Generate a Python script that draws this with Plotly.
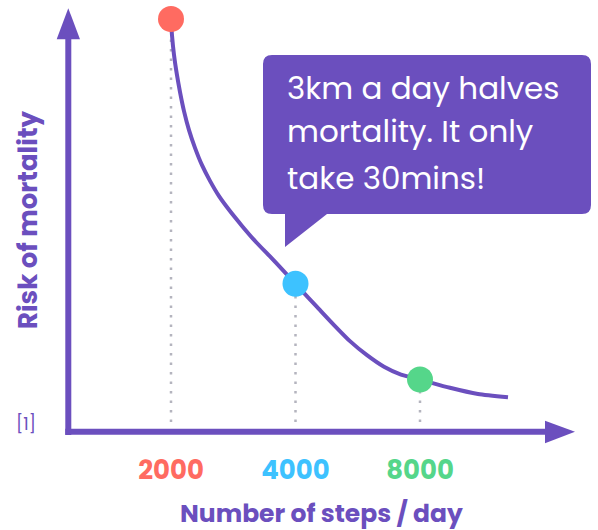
import plotly.graph_objects as go

# ---------------- data ----------------
steps = [2000, 4000, 8000]
step_labels = ["2000", "4000", "8000"]
risk = [1.0, 0.359, 0.127]
point_colors = ["#FF6B61", "#3DC2FF", "#55D68A"]

curve_steps = [2000, 2011, 2034, 2068, 2103, 2150, 2211, 2286, 2377, 2485,
               2613, 2762, 2970, 3210, 3470, 3752, 4100, 4508, 4957, 5417,
               5955, 6547, 7197, 8000, 9452, 11048, 13057]
curve_risk = [1.000, 0.961, 0.913, 0.864, 0.823, 0.777, 0.731, 0.688, 0.646, 0.608,
              0.571, 0.538, 0.499, 0.460, 0.425, 0.389, 0.347, 0.303, 0.259, 0.220,
              0.186, 0.158, 0.139, 0.127, 0.107, 0.092, 0.084]

x_title = "Number of steps / day"
y_title = "Risk of mortality"
note = "[1]"
bubble_lines = ["3km a day halves", "mortality. It only", "take 30mins!"]

# ---------------- style ----------------
PURPLE = "#6B4FBE"
GRAY = "#B4B4BE"
FONT = "Poppins, 'Open Sans', sans-serif"
W, H = 598, 530
ML, MR, MT, MB = 68, 23, 8, 98
PW, PH = W - ML - MR, H - MT - MB
X_RANGE = [3.0520, 4.27785]
Y_RANGE = [0, 1.02663]


def fx(px):
    return (px - ML) / PW


def fy(py):
    return (MT + PH - py) / PH


fig = go.Figure()

# dotted guide lines
y_base = Y_RANGE[0] + (Y_RANGE[1] - Y_RANGE[0]) * 10 / PH
for s, r in zip(steps, risk):
    fig.add_trace(go.Scatter(
        x=[s, s], y=[y_base, r], mode="lines",
        line=dict(color=GRAY, width=2.5, dash="2.5px,7px"),
        hoverinfo="skip", showlegend=False))

# curve
fig.add_trace(go.Scatter(
    x=curve_steps, y=curve_risk, mode="lines",
    line=dict(color=PURPLE, width=4, shape="spline", smoothing=0.6),
    hoverinfo="skip", showlegend=False, cliponaxis=False))

# points
fig.add_trace(go.Scatter(
    x=steps, y=risk, mode="markers", cliponaxis=False,
    marker=dict(size=26, color=point_colors, line=dict(width=0)),
    showlegend=False))

ticktext = [f"<span style='color:{c}'>{t}</span>" for t, c in zip(step_labels, point_colors)]

fig.update_xaxes(type="log", range=X_RANGE, tickvals=steps, ticktext=ticktext,
                 showgrid=False, zeroline=False, showline=False,
                 ticks="outside", ticklen=15, tickcolor="rgba(0,0,0,0)",
                 tickfont=dict(family=FONT, size=26, weight=700))
fig.update_yaxes(range=Y_RANGE, showgrid=False, zeroline=False, showline=False,
                 showticklabels=False)

shapes = []
# y axis
shapes.append(dict(type="line", xref="paper", yref="paper",
                   x0=fx(68.3), x1=fx(68.3), y0=fy(435), y1=fy(38),
                   line=dict(color=PURPLE, width=6)))
shapes.append(dict(type="path", xref="paper", yref="paper",
                   path=f"M{fx(56.7)},{fy(39.3)} L{fx(80)},{fy(39.3)} L{fx(68.3)},{fy(8.3)} Z",
                   fillcolor=PURPLE, line=dict(width=0)))
# x axis
shapes.append(dict(type="line", xref="paper", yref="paper",
                   x0=fx(65.3), x1=fx(547), y0=fy(431.7), y1=fy(431.7),
                   line=dict(color=PURPLE, width=6)))
shapes.append(dict(type="path", xref="paper", yref="paper",
                   path=f"M{fx(545)},{fy(420.7)} L{fx(575)},{fy(431.7)} L{fx(545)},{fy(443.3)} Z",
                   fillcolor=PURPLE, line=dict(width=0)))
# speech bubble
L_, R_, T_, B_, rr = 263, 591, 55, 214, 9
pts = [
    ("M", (L_ + rr, T_)), ("L", (R_ - rr, T_)), ("Q", (R_, T_), (R_, T_ + rr)),
    ("L", (R_, B_ - rr)), ("Q", (R_, B_), (R_ - rr, B_)),
    ("L", (327, B_)), ("L", (285, 247)), ("L", (285, B_)),
    ("L", (L_ + rr, B_)), ("Q", (L_, B_), (L_, B_ - rr)),
    ("L", (L_, T_ + rr)), ("Q", (L_, T_), (L_ + rr, T_)),
]
path = ""
for item in pts:
    cmd = item[0]
    coords = " ".join(f"{fx(p[0]):.5f},{fy(p[1]):.5f}" for p in item[1:])
    path += f"{cmd}{coords} "
path += "Z"
shapes.append(dict(type="path", xref="paper", yref="paper", path=path,
                   fillcolor=PURPLE, line=dict(width=0), layer="above"))

annotations = []
for line, py in zip(bubble_lines, [88, 131, 178]):
    annotations.append(dict(text=line, xref="paper", yref="paper",
                            x=fx(285), y=fy(py), xanchor="left", yanchor="middle",
                            showarrow=False,
                            font=dict(family=FONT, size=31, color="white")))
annotations.append(dict(text=x_title, xref="paper", yref="paper",
                        x=fx(321.5), y=fy(513), xanchor="center", yanchor="middle",
                        showarrow=False,
                        font=dict(family=FONT, size=25, color=PURPLE, weight=700)))
annotations.append(dict(text=y_title, xref="paper", yref="paper",
                        x=fx(28), y=fy(220), xanchor="center", yanchor="middle",
                        textangle=-90, showarrow=False,
                        font=dict(family=FONT, size=26, color=PURPLE, weight=700)))
annotations.append(dict(text=note, xref="paper", yref="paper",
                        x=fx(26), y=fy(424), xanchor="center", yanchor="middle",
                        showarrow=False,
                        font=dict(family=FONT, size=17, color=PURPLE)))

fig.update_layout(width=W, height=H, margin=dict(l=ML, r=MR, t=MT, b=MB),
                  paper_bgcolor="white", plot_bgcolor="white",
                  shapes=shapes, annotations=annotations, showlegend=False)

fig.write_html("out.html")
